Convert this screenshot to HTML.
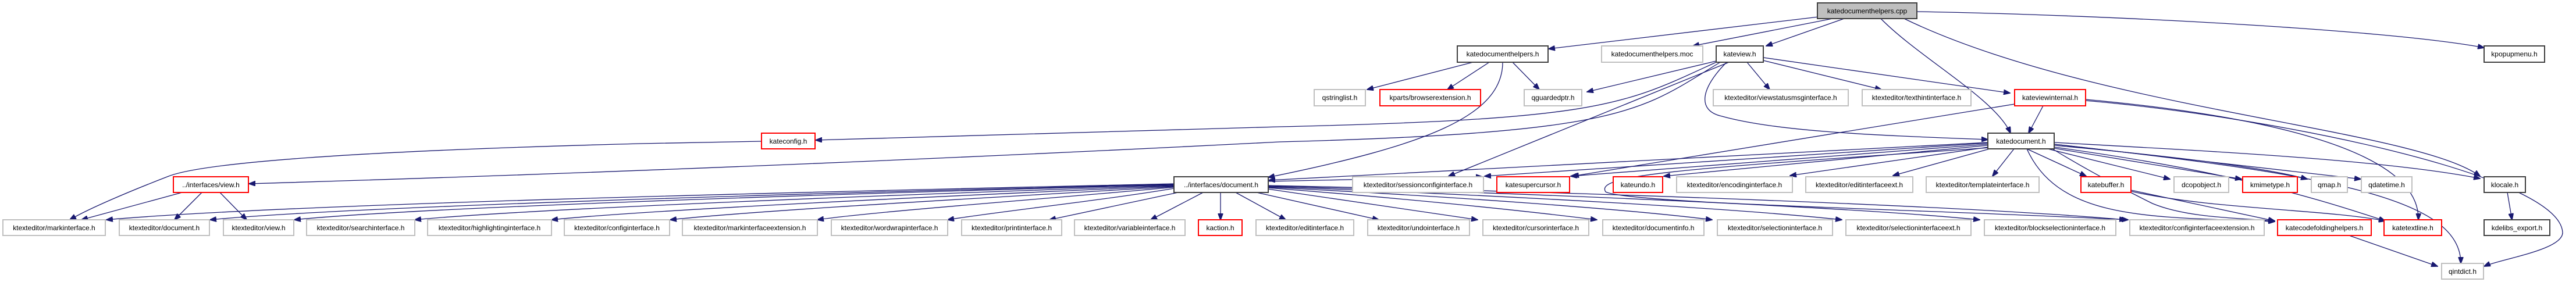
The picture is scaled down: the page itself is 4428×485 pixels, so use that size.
<!DOCTYPE html>
<html><head><meta charset="utf-8"><style>
html,body{margin:0;padding:0;background:#fff;}
svg{display:block;}
text{font-family:"Liberation Sans",sans-serif;font-size:12px;fill:#000;}
.g{fill:#fff;stroke:#bfbfbf;stroke-width:2;}
.r{fill:#fff;stroke:#ff0000;stroke-width:2;}
.b{fill:#fff;stroke:#404040;stroke-width:2;}
.f{fill:#bfbfbf;stroke:#404040;stroke-width:2;}
path{fill:none;stroke:#191970;stroke-width:1.3;}
</style></head><body>
<svg width="4428" height="485" viewBox="0 0 4428 485" xmlns="http://www.w3.org/2000/svg">
<defs><marker id="a" markerWidth="12" markerHeight="9" refX="11" refY="4.5" orient="auto" markerUnits="userSpaceOnUse"><polygon points="0,0 12,4.5 0,9" fill="#191970" stroke="#191970"/></marker></defs>
<g marker-end="url(#a)">
<!-- cpp -->
<path d="M3126,29 L2662,84"/>
<path d="M3150,32 L2910,79"/>
<path d="M3170,32 L3036,79"/>
<path d="M3233,32 C3300,100 3430,170 3456,229"/>
<path d="M3273,32 C3600,190 4150,220 4263,303"/>
<path d="M3295,20 C3600,25 4100,50 4270,82"/>
<!-- kdh_h -->
<path d="M2532,107 L2350,154"/>
<path d="M2560,107 L2488,154"/>
<path d="M2600,107 L2646,154"/>
<path d="M2583,107 C2583,200 2450,250 2180,305"/>
<!-- kateview -->
<path d="M2950,105 L2728,158"/>
<path d="M2950,107 C2790,180 2760,205 2200,218 L1402,241"/>
<path d="M2957,107 C2820,190 2800,228 2200,244 Q1300,290 428,316"/>
<path d="M2972,107 L2490,303"/>
<path d="M2968,107 C2925,150 2915,190 2960,200 C3050,225 3200,232 3417,240"/>
<path d="M3003,107 L3042,154"/>
<path d="M3031,104 L3234,154"/>
<path d="M3031,99 L3455,160"/>
<!-- kateconfig -->
<path d="M1309,243 L1100,247 C600,260 350,280 290,303 C220,330 150,360 120,378"/>
<!-- kateviewinternal -->
<path d="M3512,182 L3487,229"/>
<path d="M3463,179 L2703,303"/>
<path d="M3585,171 C3900,200 4160,260 4157,378"/>
<path d="M3585,173 C3900,200 4400,300 4405,400 C4405,430 4300,445 4270,458"/>
<!-- katedocument -->
<path d="M3417,245 L2181,310"/>
<path d="M3417,246 L2552,303"/>
<path d="M3417,248 L2700,303"/>
<path d="M3417,250 L2860,303"/>
<path d="M3418,253 L3077,302"/>
<path d="M3420,256 L3254,302"/>
<path d="M3462,256 L3425,303"/>
<path d="M3484,256 L3586,303"/>
<path d="M3520,256 L3730,308"/>
<path d="M3531,255 L3853,308"/>
<path d="M3531,250 C3750,270 3900,290 3966,308"/>
<path d="M3531,248 L4058,308"/>
<path d="M3531,245 C3800,260 4100,275 4263,307"/>
<path d="M3528,256 C3600,300 3660,330 3700,350 C3760,375 3850,375 3910,380"/>
<path d="M3531,253 C3800,290 3950,330 4100,380"/>
<path d="M3484,256 C3540,380 3700,373 3910,381"/>
<path d="M3531,248 C4000,300 4230,340 4230,453"/>
<path d="M3420,254 C2900,290 2740,300 2760,330 C2800,350 3300,360 3658,378"/>
<!-- katebuffer -->
<path d="M3663,327 L3910,380"/>
<path d="M3663,329 C3800,360 4000,360 4100,380"/>
<path d="M4038,405 L4190,458"/>
<path d="M4310,331 L4318,378"/>
<!-- ../interfaces/view.h -->
<path d="M313,331 L140,378"/>
<path d="M347,331 L300,378"/>
<path d="M378,331 L424,378"/>
<!-- ../interfaces/document.h -->
<path d="M2018,316 C1400,330 500,350 183,378"/>
<path d="M2018,317 C1400,332 600,355 361,378"/>
<path d="M2018,318 C1400,334 700,358 506,378"/>
<path d="M2018,319 C1500,336 900,360 713,378"/>
<path d="M2018,320 C1600,338 1100,362 948,378"/>
<path d="M2018,321 C1700,340 1300,362 1152,378"/>
<path d="M2018,322 C1800,342 1500,364 1405,378"/>
<path d="M2018,324 C1900,344 1700,366 1629,378"/>
<path d="M2025,331 L1804,378"/>
<path d="M2068,331 L1978,378"/>
<path d="M2098,331 L2098,378"/>
<path d="M2124,331 L2210,378"/>
<path d="M2160,331 L2370,378"/>
<path d="M2179,325 L2540,378"/>
<path d="M2179,323 C2400,340 2600,360 2745,378"/>
<path d="M2179,322 C2500,338 2800,360 2943,378"/>
<path d="M2179,321 C2600,336 3000,360 3166,378"/>
<path d="M2179,320 C2700,334 3200,358 3403,378"/>
<path d="M2179,319 C2800,332 3400,356 3654,378"/>
<path d="M2179,312 L2548,304"/>
</g>
<!-- nodes -->
<g>
<rect class="f" x="3124" y="5" width="171" height="27"/><text x="3209.5" y="23" text-anchor="middle">katedocumenthelpers.cpp</text>
<rect class="b" x="2505" y="79" width="156" height="28"/><text x="2583" y="97" text-anchor="middle">katedocumenthelpers.h</text>
<rect class="g" x="2753" y="79" width="174" height="28"/><text x="2840" y="97" text-anchor="middle">katedocumenthelpers.moc</text>
<rect class="b" x="2950" y="79" width="81" height="28"/><text x="2990.5" y="97" text-anchor="middle">kateview.h</text>
<rect class="b" x="4270" y="79" width="104" height="28"/><text x="4322" y="97" text-anchor="middle">kpopupmenu.h</text>

<rect class="g" x="2259" y="154" width="88" height="28"/><text x="2303" y="172" text-anchor="middle">qstringlist.h</text>
<rect class="r" x="2372" y="154" width="173" height="28"/><text x="2458.5" y="172" text-anchor="middle">kparts/browserextension.h</text>
<rect class="g" x="2620" y="154" width="99" height="28"/><text x="2669.5" y="172" text-anchor="middle">qguardedptr.h</text>
<rect class="g" x="2945" y="154" width="232" height="28"/><text x="3061" y="172" text-anchor="middle">ktexteditor/viewstatusmsginterface.h</text>
<rect class="g" x="3201" y="154" width="187" height="28"/><text x="3294.5" y="172" text-anchor="middle">ktexteditor/texthintinterface.h</text>
<rect class="r" x="3463" y="154" width="122" height="28"/><text x="3524" y="172" text-anchor="middle">kateviewinternal.h</text>

<rect class="r" x="1309" y="229" width="92" height="27"/><text x="1355" y="247" text-anchor="middle">kateconfig.h</text>
<rect class="b" x="3417" y="229" width="114" height="27"/><text x="3474" y="247" text-anchor="middle">katedocument.h</text>

<rect class="r" x="298" y="304" width="129" height="27"/><text x="362.5" y="322" text-anchor="middle">../interfaces/view.h</text>
<rect class="b" x="2018" y="304" width="162" height="27"/><text x="2099" y="322" text-anchor="middle">../interfaces/document.h</text>
<rect class="g" x="2325" y="304" width="225" height="27"/><text x="2437.5" y="322" text-anchor="middle">ktexteditor/sessionconfiginterface.h</text>
<rect class="r" x="2573" y="304" width="125" height="27"/><text x="2635.5" y="322" text-anchor="middle">katesupercursor.h</text>
<rect class="r" x="2773" y="304" width="85" height="27"/><text x="2815.5" y="322" text-anchor="middle">kateundo.h</text>
<rect class="g" x="2882" y="304" width="199" height="27"/><text x="2981.5" y="322" text-anchor="middle">ktexteditor/encodinginterface.h</text>
<rect class="g" x="3104" y="304" width="184" height="27"/><text x="3196" y="322" text-anchor="middle">ktexteditor/editinterfaceext.h</text>
<rect class="g" x="3311" y="304" width="194" height="27"/><text x="3408" y="322" text-anchor="middle">ktexteditor/templateinterface.h</text>
<rect class="r" x="3577" y="304" width="86" height="27"/><text x="3620" y="322" text-anchor="middle">katebuffer.h</text>
<rect class="g" x="3737" y="304" width="94" height="27"/><text x="3784" y="322" text-anchor="middle">dcopobject.h</text>
<rect class="r" x="3855" y="304" width="94" height="27"/><text x="3902" y="322" text-anchor="middle">kmimetype.h</text>
<rect class="g" x="3973" y="304" width="62" height="27"/><text x="4004" y="322" text-anchor="middle">qmap.h</text>
<rect class="g" x="4059" y="304" width="87" height="27"/><text x="4102.5" y="322" text-anchor="middle">qdatetime.h</text>
<rect class="b" x="4270" y="304" width="71" height="27"/><text x="4305.5" y="322" text-anchor="middle">klocale.h</text>

<rect class="g" x="5" y="378" width="176" height="27"/><text x="93" y="396" text-anchor="middle">ktexteditor/markinterface.h</text>
<rect class="g" x="205" y="378" width="155" height="27"/><text x="282.5" y="396" text-anchor="middle">ktexteditor/document.h</text>
<rect class="g" x="384" y="378" width="121" height="27"/><text x="444.5" y="396" text-anchor="middle">ktexteditor/view.h</text>
<rect class="g" x="527" y="378" width="186" height="27"/><text x="620" y="396" text-anchor="middle">ktexteditor/searchinterface.h</text>
<rect class="g" x="735" y="378" width="213" height="27"/><text x="841.5" y="396" text-anchor="middle">ktexteditor/highlightinginterface.h</text>
<rect class="g" x="970" y="378" width="181" height="27"/><text x="1060.5" y="396" text-anchor="middle">ktexteditor/configinterface.h</text>
<rect class="g" x="1173" y="378" width="232" height="27"/><text x="1289" y="396" text-anchor="middle">ktexteditor/markinterfaceextension.h</text>
<rect class="g" x="1429" y="378" width="200" height="27"/><text x="1529" y="396" text-anchor="middle">ktexteditor/wordwrapinterface.h</text>
<rect class="g" x="1653" y="378" width="172" height="27"/><text x="1739" y="396" text-anchor="middle">ktexteditor/printinterface.h</text>
<rect class="g" x="1847" y="378" width="190" height="27"/><text x="1942" y="396" text-anchor="middle">ktexteditor/variableinterface.h</text>
<rect class="r" x="2060" y="378" width="75" height="27"/><text x="2097.5" y="396" text-anchor="middle">kaction.h</text>
<rect class="g" x="2159" y="378" width="168" height="27"/><text x="2243" y="396" text-anchor="middle">ktexteditor/editinterface.h</text>
<rect class="g" x="2351" y="378" width="175" height="27"/><text x="2438.5" y="396" text-anchor="middle">ktexteditor/undointerface.h</text>
<rect class="g" x="2549" y="378" width="182" height="27"/><text x="2640" y="396" text-anchor="middle">ktexteditor/cursorinterface.h</text>
<rect class="g" x="2755" y="378" width="174" height="27"/><text x="2842" y="396" text-anchor="middle">ktexteditor/documentinfo.h</text>
<rect class="g" x="2952" y="378" width="198" height="27"/><text x="3051" y="396" text-anchor="middle">ktexteditor/selectioninterface.h</text>
<rect class="g" x="3173" y="378" width="215" height="27"/><text x="3280.5" y="396" text-anchor="middle">ktexteditor/selectioninterfaceext.h</text>
<rect class="g" x="3411" y="378" width="226" height="27"/><text x="3524" y="396" text-anchor="middle">ktexteditor/blockselectioninterface.h</text>
<rect class="g" x="3661" y="378" width="231" height="27"/><text x="3776.5" y="396" text-anchor="middle">ktexteditor/configinterfaceextension.h</text>
<rect class="r" x="3915" y="378" width="161" height="27"/><text x="3995.5" y="396" text-anchor="middle">katecodefoldinghelpers.h</text>
<rect class="r" x="4098" y="378" width="99" height="27"/><text x="4147.5" y="396" text-anchor="middle">katetextline.h</text>
<rect class="b" x="4270" y="378" width="113" height="27"/><text x="4326.5" y="396" text-anchor="middle">kdelibs_export.h</text>

<rect class="g" x="4197" y="453" width="72" height="27"/><text x="4233" y="471" text-anchor="middle">qintdict.h</text>
</g>
</svg>
</body></html>
